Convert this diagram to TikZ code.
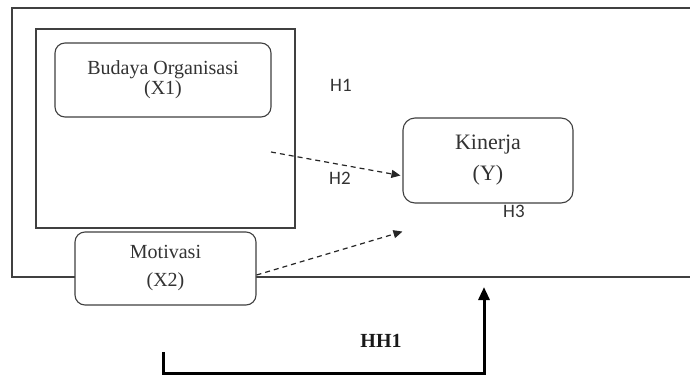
\documentclass[tikz,border=0pt]{standalone}
\usepackage{fontspec}
\setmainfont{Liberation Serif}
\newfontfamily\hfont{Carlito}
\usetikzlibrary{arrows.meta}
\begin{document}
\begin{tikzpicture}[x=1pt,y=-1pt,
  frameline/.style={draw=black!75, line width=1.1pt},
  varbox/.style={draw=black!75, line width=1.1pt, fill=white, rounded corners=10pt, align=center, text=black!80, inner sep=0pt},
  hlabel/.style={font=\hfont\fontsize{19}{19}\selectfont, text=black!80, inner sep=0pt, anchor=base west},
  dasharrow/.style={draw=black!85, line width=1.2pt, dash pattern=on 5pt off 4pt, -{Triangle[length=9pt,width=8pt]}},
  thickarrow/.style={draw=black, line width=3pt, -{Triangle[length=13pt,width=11pt]}},
]
\useasboundingbox (0,0) rectangle (690,375);
\fill[white] (0,0) rectangle (690,375);
\draw[frameline] (690,8) -- (12,8) -- (12,277) -- (690,277);
\draw[frameline] (36,29) rectangle (295,228);
\node[varbox, minimum width=216pt, minimum height=74pt, font=\fontsize{20}{20}\selectfont] (X1) at (163,80) {Budaya Organisasi\\(X1)};
\node[varbox, minimum width=181pt, minimum height=73pt, font=\fontsize{20}{28}\selectfont] (X2) at (165.5,268.5) {Motivasi\\(X2)};
\node[varbox, rounded corners=12pt, minimum width=170pt, minimum height=85pt, font=\fontsize{22}{31}\selectfont] (Y) at (488,160.5) {Kinerja\\(Y)};
\node[hlabel] (H1) at (330,91) {H1};
\node[hlabel] (H2) at (329,184) {H2};
\node[hlabel] (H3) at (503,217) {H3};
\node[font=\bfseries\fontsize{20}{20}\selectfont, text=black!90, inner sep=0pt, anchor=base] (HH1) at (381,347) {HH1};
\coordinate (a1) at (271,152);
\draw[dasharrow] (a1) -- ([shift={(-2,15)}]Y.west);
\draw[dasharrow] ([shift={(0,6.5)}]X2.east) -- ([shift={(0,28)}]Y.south west);
\coordinate (s) at (163,352);
\coordinate (c1) at (163,373);
\coordinate (t) at (484,287);
\draw[thickarrow] (s) -- (c1) -| (t);
\end{tikzpicture}
\end{document}
